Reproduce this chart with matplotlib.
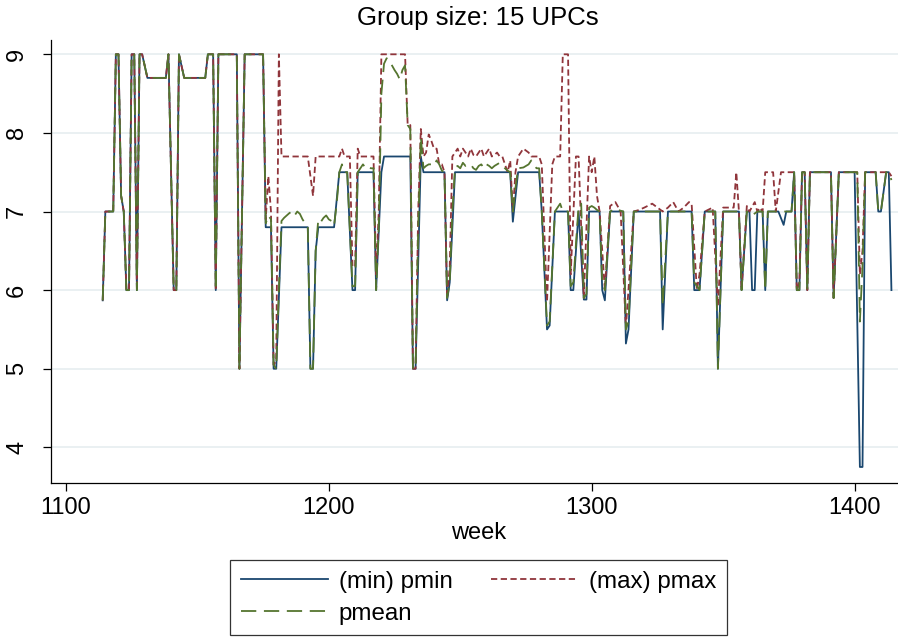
import matplotlib
matplotlib.use("Agg")
import matplotlib.pyplot as plt

plt.rcParams['font.family'] = ['Liberation Sans', 'DejaVu Sans']
plt.rcParams['lines.scale_dashes'] = False

title = "Group size: 15 UPCs"
xlabel = "week"
labels = ["(min) pmin", "(max) pmax", "pmean"]
xticks = [1100, 1200, 1300, 1400]
yticks = [4, 5, 6, 7, 8, 9]

# common early part (all three series coincide)
weeks_early = [1114, 1115, 1118, 1119, 1120, 1121, 1122, 1123, 1124, 1125, 1126, 1127,
               1128, 1129, 1131, 1138, 1139, 1141, 1142, 1143, 1145, 1153, 1154, 1156,
               1157, 1158, 1165, 1166, 1168, 1175]
p_early = [5.87, 7, 7, 9, 9, 7.2, 7.0, 6, 6, 9, 9, 6,
           9, 9, 8.7, 8.7, 9, 6, 6, 9, 8.7, 8.7, 9, 9,
           6, 9, 9, 5, 9, 9]

weeks_min_late = [1176, 1178, 1179, 1180, 1182, 1192, 1193, 1194, 1195, 1196, 1202, 1204,
                  1207, 1209, 1210, 1211, 1217, 1218, 1220, 1221, 1231, 1232, 1233, 1235,
                  1236, 1244, 1245, 1246, 1248, 1269, 1270, 1272, 1280, 1281, 1283, 1284,
                  1286, 1291, 1292, 1293, 1295, 1297, 1298, 1299, 1303, 1304, 1305, 1307,
                  1312, 1313, 1314, 1316, 1326, 1327, 1329, 1338, 1339, 1341, 1343, 1347,
                  1348, 1350, 1356, 1357, 1359, 1360, 1361, 1362, 1363, 1365, 1366, 1367,
                  1371, 1373, 1374, 1376, 1377, 1378, 1379, 1380, 1381, 1382, 1383, 1391,
                  1392, 1394, 1400, 1402, 1403, 1404, 1408, 1409, 1410, 1412, 1413, 1414]
pmin_late = [6.8, 6.8, 5, 5, 6.8, 6.8, 5, 5, 6.5, 6.8, 6.8, 7.5,
             7.5, 6, 6, 7.5, 7.5, 6, 7.5, 7.7, 7.7, 5, 5, 7.7,
             7.5, 7.5, 5.87, 6.1, 7.5, 7.5, 6.87, 7.5, 7.5, 7, 5.5, 5.55,
             7, 7, 6, 6, 7, 5.88, 5.88, 7, 7, 6, 5.87, 7,
             7, 5.32, 5.5, 7, 7, 5.5, 7, 7, 6, 6, 7, 7,
             5, 7, 7, 6, 7, 7, 6, 6, 7, 7, 6, 7,
             7, 6.83, 7, 7, 7.5, 6, 6, 7.5, 7.5, 6, 7.5, 7.5,
             5.9, 7.5, 7.5, 3.75, 3.75, 7.5, 7.5, 7, 7, 7.5, 7.5, 6]

weeks_max_late = [1176, 1177, 1178, 1179, 1180, 1181, 1182, 1192, 1194, 1195, 1204, 1205,
                  1206, 1208, 1209, 1210, 1211, 1212, 1217, 1218, 1219, 1220, 1229, 1230,
                  1231, 1232, 1233, 1234, 1235, 1236, 1237, 1238, 1239, 1240, 1241, 1242,
                  1243, 1244, 1245, 1246, 1247, 1248, 1249, 1250, 1251, 1252, 1253, 1254,
                  1255, 1256, 1257, 1258, 1259, 1260, 1261, 1262, 1263, 1264, 1265, 1266,
                  1267, 1268, 1269, 1270, 1271, 1272, 1274, 1276, 1277, 1280, 1281, 1283,
                  1285, 1286, 1288, 1289, 1291, 1292, 1294, 1295, 1297, 1299, 1300, 1301,
                  1302, 1303, 1305, 1307, 1309, 1311, 1313, 1316, 1318, 1320, 1323, 1325,
                  1327, 1329, 1331, 1333, 1335, 1337, 1338, 1340, 1341, 1343, 1346, 1348,
                  1350, 1354, 1355, 1356, 1357, 1359, 1360, 1362, 1363, 1364, 1365, 1366,
                  1369, 1370, 1372, 1377, 1378, 1379, 1380, 1381, 1382, 1383, 1391, 1392,
                  1394, 1401, 1402, 1403, 1404, 1413, 1414]
pmax_late = [6.9, 7.45, 7.0, 5.05, 5.1, 9, 7.7, 7.7, 7.2, 7.7, 7.7, 7.8,
             7.7, 7.7, 6.3, 6.3, 7.8, 7.7, 7.7, 6.2, 7.0, 9, 9, 8.1,
             8.1, 5, 5, 7.0, 8.05, 7.7, 7.75, 7.98, 7.9, 7.8, 7.8, 7.6,
             7.6, 7.5, 5.9, 6.3, 7.7, 7.75, 7.8, 7.7, 7.8, 7.75, 7.7, 7.8,
             7.72, 7.7, 7.75, 7.8, 7.7, 7.75, 7.8, 7.7, 7.72, 7.75, 7.7, 7.7,
             7.6, 7.5, 7.65, 7.0, 7.5, 7.7, 7.8, 7.75, 7.7, 7.7, 7.6, 5.85,
             7.6, 7.7, 7.7, 9, 9, 6.2, 7.7, 7.7, 5.9, 7.7, 7.5, 7.7,
             7.2, 7.0, 6.0, 7.07, 7.12, 7.0, 5.52, 7.0, 7.02, 7.05, 7.1, 7.05,
             7.0, 7.05, 7.12, 7.0, 7.05, 7.12, 7.1, 6.0, 6.2, 7.0, 7.05, 5.8,
             7.05, 7.05, 7.5, 7.0, 6.0, 7.07, 7.0, 7.12, 7.0, 7.05, 7.0, 7.5,
             7.5, 7.0, 7.5, 7.5, 6, 6.1, 7.5, 7.5, 6, 7.5, 7.5, 5.9,
             7.5, 7.5, 6.2, 6.5, 7.5, 7.5, 7.45]

weeks_mean_late = [1176, 1177, 1178, 1179, 1180, 1181, 1182, 1183, 1184, 1185, 1186, 1187,
                   1188, 1189, 1190, 1191, 1192, 1193, 1194, 1195, 1196, 1197, 1198, 1199,
                   1200, 1201, 1202, 1203, 1204, 1205, 1206, 1207, 1209, 1210, 1211, 1212,
                   1213, 1214, 1215, 1216, 1217, 1218, 1219, 1220, 1221, 1222, 1223, 1224,
                   1225, 1226, 1227, 1228, 1229, 1230, 1231, 1232, 1233, 1234, 1235, 1236,
                   1237, 1238, 1239, 1240, 1241, 1242, 1243, 1244, 1245, 1246, 1247, 1248,
                   1249, 1250, 1251, 1252, 1253, 1254, 1255, 1256, 1257, 1258, 1259, 1260,
                   1261, 1262, 1263, 1264, 1265, 1266, 1267, 1268, 1269, 1270, 1271, 1272,
                   1274, 1276, 1277, 1278, 1279, 1280, 1281, 1283, 1284, 1286, 1287, 1288,
                   1289, 1291, 1292, 1293, 1295, 1296, 1297, 1298, 1299, 1300, 1301, 1302,
                   1303, 1304, 1305, 1307, 1308, 1309, 1310, 1312, 1313, 1314, 1316, 1326,
                   1327, 1329, 1338, 1339, 1341, 1343, 1347, 1348, 1350, 1356, 1357, 1359,
                   1361, 1363, 1365, 1366, 1367, 1376, 1377, 1378, 1379, 1380, 1381, 1382,
                   1383, 1391, 1392, 1394, 1401, 1402, 1403, 1404, 1408, 1409, 1410, 1412,
                   1413, 1414]
pmean_late = [6.85, 6.95, 6.9, 5.05, 5.0, 6.0, 6.88, 6.92, 6.95, 6.98, 7.0, 6.95,
              7.0, 6.97, 6.9, 6.85, 6.82, 5.0, 5.0, 6.5, 6.9, 6.87, 6.92, 6.95,
              6.9, 6.88, 6.82, 7.1, 7.5, 7.6, 7.5, 7.5, 6.05, 6.05, 7.5, 7.55,
              7.6, 7.55, 7.57, 7.55, 7.55, 6, 6.8, 8.5, 8.88, 8.95, 8.92, 8.86,
              8.8, 8.75, 8.68, 8.8, 8.86, 8.1, 8.05, 5, 5, 6.8, 7.95, 7.55,
              7.58, 7.6, 7.6, 7.58, 7.65, 7.6, 7.52, 7.5, 5.9, 6.1, 7.0, 7.56,
              7.58, 7.55, 7.62, 7.58, 7.6, 7.6, 7.55, 7.53, 7.58, 7.6, 7.55, 7.6,
              7.58, 7.55, 7.58, 7.6, 7.62, 7.58, 7.55, 7.52, 7.5, 7.0, 7.3, 7.55,
              7.56, 7.6, 7.65, 7.6, 7.55, 7.55, 7.0, 5.55, 5.6, 7.0, 7.05, 7.1,
              7.0, 7.0, 6.05, 6.1, 7.07, 7.1, 5.9, 5.95, 7.05, 7.07, 7.05, 7.02,
              7.0, 6.1, 6.0, 7.0, 7.02, 7.0, 7.02, 7.0, 5.5, 5.6, 7.0, 7.0,
              5.8, 7.0, 7.0, 6.1, 6.0, 7.0, 7.0, 5.0, 7.0, 7.0, 6.0, 7.0,
              6.95, 7.0, 7.0, 6.0, 7.0, 7.0, 7.5, 6, 6, 7.5, 7.5, 6,
              7.5, 7.5, 5.9, 7.5, 7.5, 5.6, 6.3, 7.5, 7.5, 7, 7, 7.5,
              7.5, 7.4]

weeks_min = weeks_early + weeks_min_late
pmin = p_early + pmin_late
weeks_max = weeks_early + weeks_max_late
pmax = p_early + pmax_late
weeks_mean = weeks_early + weeks_mean_late
pmean = p_early + pmean_late

navy = '#1a476f'
maroon = '#90353b'
green = '#55752f'

fig = plt.figure(figsize=(8.98, 6.40), dpi=100)
ax = fig.add_axes([51/898, 1 - 482.7/640, 1 - 51/898, (482.7 - 40)/640])

lw = 1.3
l_min, = ax.plot(weeks_min, pmin, color=navy, lw=lw, label=labels[0], zorder=3)
l_max, = ax.plot(weeks_max, pmax, color=maroon, lw=lw, dashes=(4.5, 2.5), label=labels[1], zorder=4)
l_mean, = ax.plot(weeks_mean, pmean, color=green, lw=lw, dashes=(11, 5.5), label=labels[2], zorder=5)

ax.set_xlim(1094.33, 1416.5)
ax.set_ylim(3.55, 9.182)
ax.set_xticks(xticks)
ax.set_yticks(yticks)
ax.yaxis.grid(True, color='#e4ecef', lw=1.1)
ax.set_axisbelow(True)
for s in ['top', 'right']:
    ax.spines[s].set_visible(False)
for s in ['left', 'bottom']:
    ax.spines[s].set_linewidth(0.9)
    ax.spines[s].set_color('black')
ax.tick_params(axis='x', length=5.5, width=0.9, labelsize=17, pad=4.5)
ax.tick_params(axis='y', length=5.5, width=0.9, labelsize=17, pad=11)
for lab in ax.get_yticklabels():
    lab.set_rotation(90)
    lab.set_va('center')

fig.text(478/898, 1 - 18/640, title, ha='center', va='center', fontsize=18.5)
fig.text(479/898, 1 - 533/640, xlabel, ha='center', va='center', fontsize=17)

# column-major ordering so rows read: pmin, pmax / pmean
handles = [l_min, l_mean, l_max]
labs = [labels[0], labels[2], labels[1]]
leg = fig.legend(handles, labs, ncol=2, loc='upper center',
                 bbox_to_anchor=(478.5/898, 1 - 560/640), fontsize=17.4,
                 frameon=True, fancybox=False, edgecolor='black',
                 handlelength=3.6, handletextpad=0.45, columnspacing=1.6,
                 borderpad=0.45, labelspacing=0.4, borderaxespad=0)
leg.get_frame().set_linewidth(0.9)

fig.savefig('out.png', dpi=100, facecolor='white')
